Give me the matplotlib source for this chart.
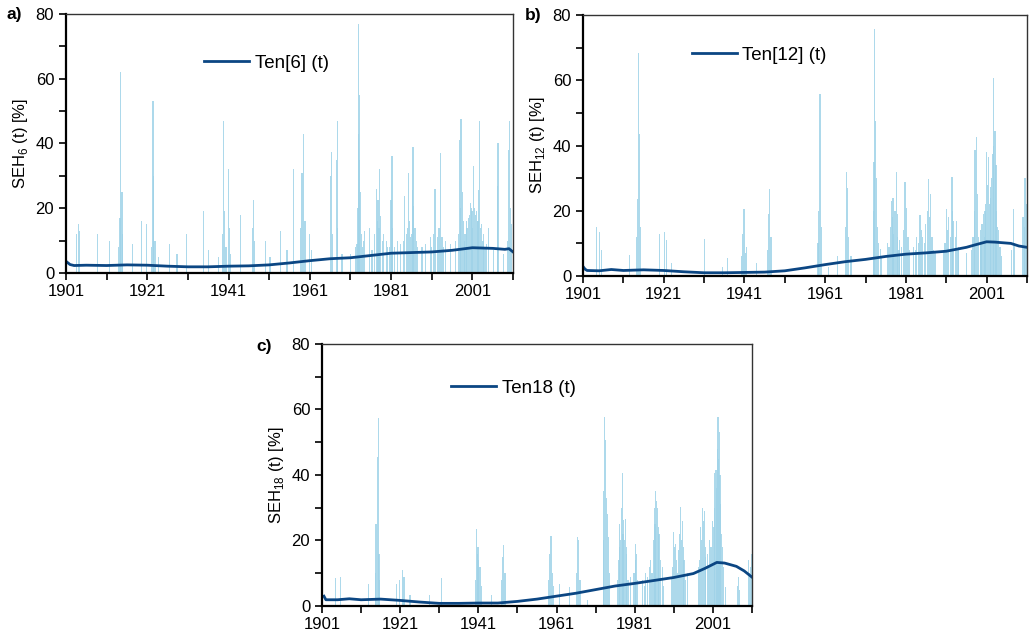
import matplotlib.pyplot as plt
from matplotlib.ticker import MultipleLocator

plt.rcParams['font.family'] = ['Liberation Sans', 'DejaVu Sans']
plt.rcParams['mathtext.fontset'] = 'custom'
plt.rcParams['mathtext.rm'] = 'Liberation Sans'

# ---- panel a: SEH6 monthly spikes (year, %) and the trend Ten[6]
spike_yrs_a = [1903.6, 1904.0, 1904.4, 1908.8, 1911.8, 1914.3, 1914.5, 1914.8, 1917.4,
               1919.6, 1920.9, 1922.4, 1922.6, 1923.7, 1926.5, 1928.3, 1930.7, 1934.8,
               1936.0, 1938.5, 1939.8, 1940.0, 1941.0, 1941.4, 1943.9, 1946.9, 1947.1,
               1950.0, 1951.2, 1953.7, 1955.4, 1957.0, 1959.1, 1959.5, 1960.9, 1961.5,
               1966.1, 1966.3, 1967.6, 1967.8, 1968.9, 1971.0, 1972.6, 1972.9, 1973.0,
               1973.2, 1973.5, 1974.4, 1975.7, 1977.4, 1977.8, 1978.2, 1978.4, 1979.2,
               1980.2, 1981.0, 1981.2, 1982.5, 1984.3, 1985.3, 1986.2, 1986.4, 1986.6,
               1987.4, 1989.4, 1990.7, 1991.8, 1992.4, 1993.1, 1993.5, 1994.3, 1997.9,
               1998.2, 1998.5, 1999.7, 2000.5, 2001.3, 2001.8, 2002.6, 2002.8, 2003.8,
               2005.0, 2007.1, 2007.3, 2008.7, 2009.9, 2010.1,
               1974.0, 1976.3, 1979.8, 1983.4, 1985.8, 1988.6, 1995.6, 1996.8, 1999.2,
               2000.0, 2000.9, 2002.2, 2003.3, 2004.5, 2006.2,
               1914.0, 1915.0, 1922.0, 1922.9, 1939.6, 1940.4, 1941.2, 1947.4, 1958.8,
               1959.8, 1966.6, 1967.9, 1972.3, 1972.8, 1973.1, 1973.8, 1974.2, 1977.0,
               1977.6, 1978.0, 1978.8, 1980.6, 1981.4, 1981.8, 1984.0, 1984.7, 1985.0,
               1985.6, 1986.0, 1986.9, 1987.2, 1991.0, 1991.5, 1992.8, 1993.8, 1997.5,
               1998.0, 1998.8, 1999.0, 1999.5, 2000.2, 2000.7, 2001.0, 2001.5, 2002.0,
               2002.4, 2003.0, 2003.6, 2004.1, 2009.6, 2010.4, 2010.7]
spike_vals_a = [12, 15, 13, 12, 10, 17, 62, 25, 9,
                16, 15, 53, 30, 5, 9, 6, 12, 19,
                7, 5, 47, 19, 32, 6, 18, 14, 22.5,
                10, 5, 13, 7, 32, 31, 43, 12, 7,
                30, 37.5, 35, 47, 6, 6, 9, 43, 77,
                55, 25, 13, 14, 26, 22.5, 32, 17.5, 12,
                8, 22.5, 36, 10, 23.7, 31, 25.7, 39, 20.6,
                8, 9, 11, 26, 11, 37, 11, 10, 41,
                47.6, 25, 14, 21.6, 33, 18, 25.7, 47, 12,
                14, 27, 40, 6, 38, 47,
                8, 7, 10, 9, 11, 8, 9, 10, 12,
                17, 19, 16, 15, 9, 7,
                8, 12, 8, 10, 12, 8, 14, 10, 14,
                16, 12, 14, 8, 20, 35, 12, 10, 12,
                16, 14, 10, 8, 14, 8, 10, 12, 14,
                16, 12, 14, 10, 8, 12, 14, 8, 12,
                20, 16, 10, 16, 18, 20, 14, 20, 19,
                16, 14, 10, 8, 10, 20, 15]
trend_yrs_a = [1901, 1902, 1903, 1906, 1911, 1916, 1921, 1926, 1931, 1936, 1941, 1946,
               1951, 1956, 1961, 1966, 1971, 1976, 1981, 1986, 1991, 1996, 2001, 2006,
               2009, 2010, 2010.5, 2011]
trend_a = [3.6, 2.6, 2.3, 2.4, 2.3, 2.5, 2.4, 2.1, 1.9, 1.9, 2.1, 2.2,
           2.5, 3.1, 3.8, 4.4, 4.7, 5.4, 6.1, 6.3, 6.5, 7.0, 7.8, 7.6,
           7.3, 7.5, 7.0, 6.5]

# ---- panel b: SEH12
spike_yrs_b = [1904.3, 1905.1, 1905.5, 1912.5, 1914.4, 1914.7, 1914.9, 1919.9, 1921.2,
               1921.6, 1923.0, 1931.0, 1935.6, 1936.8, 1940.5, 1940.9, 1941.3, 1944.0,
               1947.0, 1947.3, 1959.4, 1959.7, 1961.9, 1964.1, 1966.3, 1966.5, 1967.4,
               1973.3, 1973.5, 1973.7, 1974.3, 1974.7, 1977.4, 1977.8, 1978.0, 1978.6,
               1979.0, 1980.0, 1980.8, 1981.2, 1982.9, 1983.7, 1984.5, 1984.9, 1986.6,
               1987.0, 1988.2, 1991.0, 1991.6, 1992.4, 1992.8, 1993.6, 1996.0, 1998.1,
               1998.4, 1999.4, 2000.2, 2001.0, 2001.4, 2002.0, 2002.5, 2002.8, 2003.1,
               2003.3, 2004.3, 2007.6, 2010.5,
               1976.8, 1979.5, 1985.6, 1987.5, 1990.3, 1994.0, 1997.6, 1999.8, 2000.6,
               2001.7, 2003.7, 2010.0,
               1914.2, 1915.2, 1940.2, 1941.6, 1946.7, 1947.6, 1959.2, 1960.0, 1966.0,
               1966.8, 1972.9, 1973.1, 1973.9, 1975.0, 1976.5, 1977.1, 1977.6, 1978.3,
               1978.9, 1979.3, 1980.5, 1981.5, 1981.8, 1983.3, 1984.2, 1985.2, 1985.9,
               1986.3, 1986.9, 1987.3, 1987.8, 1990.7, 1991.3, 1992.0, 1992.6, 1993.2,
               1993.9, 1997.3, 1997.9, 1998.7, 1999.0, 1999.6, 2000.0, 2000.4, 2000.8,
               2001.2, 2001.9, 2002.2, 2002.7, 2003.5, 2003.9, 2004.6, 2007.2, 2007.9,
               2010.3, 2010.8]
spike_vals_b = [15, 13.5, 8, 6.4, 23.7, 68.5, 43.5, 13, 13.5,
                11, 3.9, 11.5, 2.8, 5.4, 13, 20.6, 7, 3.9,
                19, 26.8, 20, 55.7, 2.8, 6, 31.8, 27, 6,
                75.6, 47.6, 30, 10, 8.4, 23, 24, 13, 31.8,
                19, 9, 28.8, 21, 9, 12, 18.6, 14, 29.8,
                25, 7, 20.6, 18, 30.3, 17, 17, 7, 38.5,
                42.5, 14, 19, 38, 36.4, 27.3, 37.4, 60.6, 44.6,
                34, 9, 20.6, 30,
                9, 11, 10, 12, 8, 9, 12, 16, 20,
                22, 15, 18,
                12, 15, 6, 9, 8, 12, 10, 15, 15,
                12, 20, 35, 15, 6, 10, 15, 18, 20,
                12, 8, 14, 12, 8, 8, 10, 12, 16,
                20, 18, 12, 8, 10, 14, 12, 20, 12,
                8, 8, 20, 25, 12, 10, 16, 12, 22,
                28, 24, 30, 40, 20, 14, 6, 8, 10,
                15, 22]
trend_yrs_b = [1901, 1901.5, 1902, 1905, 1908, 1911, 1916, 1921, 1926, 1931, 1936, 1941,
               1946, 1951, 1956, 1961, 1966, 1971, 1976, 1981, 1986, 1991, 1996, 1998,
               2001, 2003, 2007, 2009, 2011]
trend_b = [2.9, 2.1, 1.7, 1.6, 2.0, 1.7, 1.9, 1.7, 1.3, 1.0, 1.0, 1.1,
           1.2, 1.6, 2.5, 3.5, 4.4, 5.1, 6.0, 6.7, 7.1, 7.6, 8.8, 9.5,
           10.5, 10.4, 10.0, 9.2, 8.8]

# ---- panel c: SEH18
spike_yrs_c = [1904.4, 1905.8, 1912.9, 1914.8, 1915.1, 1915.4, 1915.6, 1920.1, 1920.9,
               1921.6, 1922.0, 1923.5, 1928.6, 1931.6, 1940.5, 1940.9, 1941.4, 1944.3,
               1947.2, 1947.5, 1959.2, 1959.6, 1959.9, 1961.7, 1964.3, 1966.3, 1966.7,
               1969.0, 1973.3, 1973.5, 1973.8, 1974.2, 1977.0, 1977.4, 1977.8, 1978.2,
               1978.6, 1979.0, 1981.1, 1981.5, 1983.0, 1983.8, 1984.7, 1986.0, 1986.4,
               1986.8, 1987.2, 1991.0, 1991.4, 1992.3, 1992.8, 1993.2, 1993.6, 1997.9,
               1998.3, 1998.8, 1999.6, 2000.8, 2001.5, 2001.8, 2002.3, 2002.6, 2003.0,
               2004.3, 2007.5, 2010.2,
               1976.6, 1980.0, 1985.4, 1988.0, 1990.4, 1994.5, 1997.4, 1999.2, 2000.2,
               2001.1, 2003.4, 2010.6,
               1914.6, 1915.8, 1940.2, 1940.7, 1941.1, 1941.7, 1947.0, 1947.8, 1958.9,
               1960.2, 1966.0, 1967.0, 1973.0, 1973.1, 1974.0, 1974.5, 1976.8, 1977.2,
               1977.6, 1978.0, 1978.4, 1978.8, 1979.3, 1980.8, 1981.3, 1981.8, 1983.4,
               1984.2, 1985.0, 1985.7, 1986.2, 1986.6, 1987.0, 1987.5, 1988.3, 1990.7,
               1991.2, 1991.7, 1992.0, 1992.5, 1993.0, 1993.4, 1994.0, 1997.6, 1998.0,
               1998.5, 1999.0, 1999.9, 2000.5, 2001.3, 2002.0, 2002.1, 2002.4, 2002.8,
               2003.2, 2003.7, 2007.3, 2007.7, 2010.4, 2010.8]
spike_vals_c = [8.4, 9, 6.8, 25, 45.6, 57.3, 16, 6.8, 7.8,
                11, 9, 3.3, 3.3, 8.4, 23.4, 18, 12, 3.3,
                15, 18.5, 16, 21.3, 10, 6.8, 5.8, 21, 20,
                1.7, 57.8, 50.7, 33, 21, 25, 20, 40.5, 26.2,
                26.7, 16, 19, 16, 7.8, 10, 12, 30, 35,
                29.8, 22, 22.6, 19, 17, 30.3, 26, 14, 24,
                30, 29, 16, 26, 40.5, 41.5, 57.8, 53, 31,
                5.8, 8.9, 14,
                8, 9, 10, 12, 9, 10, 12, 15, 20,
                24, 18, 12,
                10, 8, 8, 16, 14, 6, 8, 10, 8,
                6, 10, 8, 20, 35, 28, 10, 14, 18,
                30, 22, 20, 18, 8, 10, 14, 8, 6,
                9, 14, 20, 25, 32, 24, 14, 6, 12,
                18, 14, 10, 22, 20, 18, 8, 14, 20,
                26, 18, 12, 18, 30, 36, 48, 45, 40,
                22, 12, 6, 5, 10, 16]
trend_yrs_c = [1901.5, 1902, 1905, 1908, 1911, 1916, 1921, 1926, 1931, 1936, 1941, 1946,
               1951, 1956, 1961, 1966, 1971, 1976, 1981, 1986, 1991, 1996, 1999, 2002,
               2004, 2007, 2009, 2011]
trend_c = [3.0, 1.9, 1.9, 2.2, 1.9, 2.1, 1.7, 1.2, 0.8, 0.8, 0.9, 0.9,
           1.4, 2.1, 3.0, 3.9, 5.0, 6.1, 6.9, 7.8, 8.7, 9.9, 11.5, 13.3,
           13.1, 12.1, 10.7, 8.8]

spike_color = '#9fd3e8'
line_color = '#0b4683'


def draw_panel(ax, yrs, vals, tyrs, tvals, label, ylab, letter, leg_xy, letter_xy):
    ax.bar(yrs, vals, width=0.3, color=spike_color, linewidth=0, alpha=0.85)
    ax.plot(tyrs, tvals, color=line_color, lw=2.0, label=label)
    ax.set_xlim(1901, 2011)
    ax.set_ylim(0, 80)
    ax.set_xticks(range(1901, 2012, 20))
    ax.set_xticks(range(1911, 2012, 20), minor=True)
    ax.yaxis.set_major_locator(MultipleLocator(20))
    ax.yaxis.set_minor_locator(MultipleLocator(10))
    ax.tick_params(which='both', direction='out', length=5, width=1.2,
                   labelsize=12, colors='black')
    ax.tick_params(axis='x', pad=3)
    for side in ['left', 'bottom']:
        ax.spines[side].set_linewidth(1.6)
        ax.spines[side].set_color('black')
    for side in ['top', 'right']:
        ax.spines[side].set_linewidth(1.0)
        ax.spines[side].set_color('#333333')
    ax.set_ylabel(ylab, fontsize=12, labelpad=4)
    ax.legend(loc='center left', bbox_to_anchor=leg_xy, frameon=False,
              fontsize=13.5, handlelength=2.4, handletextpad=0.3,
              borderpad=0, borderaxespad=0)
    ax.figure.text(letter_xy[0], letter_xy[1], letter, fontsize=12.5,
                   fontweight='bold', ha='left', va='center')


fig = plt.figure(figsize=(10.31, 6.36), dpi=100)
ax_a = fig.add_axes([0.064, 0.5708, 0.4336, 0.4072])
ax_b = fig.add_axes([0.5655, 0.566, 0.4306, 0.4104])
ax_c = fig.add_axes([0.3123, 0.0472, 0.4171, 0.412])

draw_panel(ax_a, spike_yrs_a, spike_vals_a, trend_yrs_a, trend_a, 'Ten[6] (t)',
           r'SEH$_{\mathregular{6}}$ (t) [%]', 'a)', (0.309, 0.811), (0.006, 0.977))
draw_panel(ax_b, spike_yrs_b, spike_vals_b, trend_yrs_b, trend_b, 'Ten[12] (t)',
           r'SEH$_{\mathregular{12}}$ (t) [%]', 'b)', (0.245, 0.847), (0.509, 0.975))
draw_panel(ax_c, spike_yrs_c, spike_vals_c, trend_yrs_c, trend_c, 'Ten18 (t)',
           r'SEH$_{\mathregular{18}}$ (t) [%]', 'c)', (0.30, 0.832), (0.249, 0.455))

fig.savefig('out.png', dpi=100)
